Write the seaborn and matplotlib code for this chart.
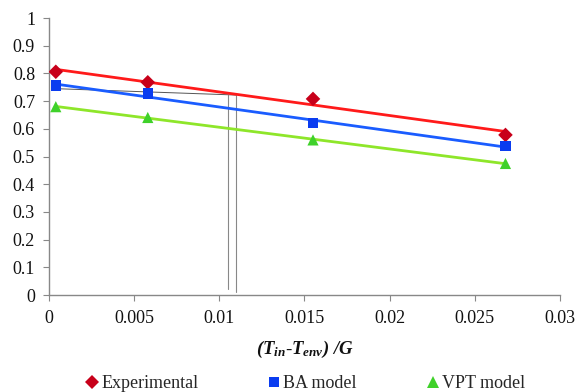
import numpy as np
import pandas as pd
import matplotlib
matplotlib.use("Agg")
import matplotlib.pyplot as plt
import seaborn as sns
from matplotlib.lines import Line2D

# ---- data ----
x_vals = [0.0004, 0.0058, 0.0155, 0.0268]
experimental = [0.806, 0.768, 0.708, 0.578]
ba_model = [0.756, 0.728, 0.620, 0.538]
vpt_model = [0.680, 0.641, 0.560, 0.475]
series_names = ["Experimental", "BA model", "VPT model"]
x_ticks = [0, 0.005, 0.01, 0.015, 0.02, 0.025, 0.03]
x_tick_labels = ["0", "0.005", "0.01", "0.015", "0.02", "0.025", "0.03"]
y_ticks = [0, 0.1, 0.2, 0.3, 0.4, 0.5, 0.6, 0.7, 0.8, 0.9, 1.0]
y_tick_labels = ["0", "0.1", "0.2", "0.3", "0.4", "0.5", "0.6", "0.7", "0.8", "0.9", "1"]
# thin annotation guide lines in the reference
guide_v_x = [0.0105, 0.0110]
guide_v_y0 = [0.022, 0.012]
guide_v_y1 = [0.722, 0.722]
guide_h_x = [0.0004, 0.0110]
guide_h_y = [0.745, 0.722]

sns.set_theme(style="white")
plt.rcParams["font.family"] = ["Liberation Serif", "DejaVu Serif"]
plt.rcParams["mathtext.fontset"] = "custom"
plt.rcParams["mathtext.rm"] = "Liberation Serif:bold:italic"
plt.rcParams["mathtext.it"] = "Liberation Serif:bold:italic"
plt.rcParams["mathtext.bf"] = "Liberation Serif:bold:italic"

df = pd.DataFrame({
    "x": x_vals * 3,
    "y": experimental + ba_model + vpt_model,
    "series": [series_names[0]] * 4 + [series_names[1]] * 4 + [series_names[2]] * 4,
})

line_colors = {"Experimental": "#ff1a1a", "BA model": "#1a5cff", "VPT model": "#8ee62a"}
marker_colors = {"Experimental": "#c8001a", "BA model": "#0a3cf0", "VPT model": "#3fd12a"}
markers = {"Experimental": "D", "BA model": "s", "VPT model": "^"}
msizes = {"Experimental": 55, "BA model": 55, "VPT model": 65}

fig = plt.figure(figsize=(5.77, 3.92), dpi=100)
ax = fig.add_axes([0.0849, 0.2474, 0.8856, 0.7066])

# guide lines
for gx, y0, y1 in zip(guide_v_x, guide_v_y0, guide_v_y1):
    ax.plot([gx, gx], [y0, y1], color="#888888", lw=0.8, zorder=1)
ax.plot(guide_h_x, guide_h_y, color="#555555", lw=0.7, zorder=1)

for name in series_names:
    sub = df[df["series"] == name]
    sns.regplot(data=sub, x="x", y="y", ax=ax, scatter=False, ci=None,
                line_kws={"color": line_colors[name], "lw": 2.0, "zorder": 2})
    sns.scatterplot(data=sub, x="x", y="y", ax=ax, marker=markers[name],
                    color=marker_colors[name], s=msizes[name], edgecolor="none",
                    zorder=3, legend=False)

ax.set_xlim(0, 0.03)
ax.set_ylim(0, 1)
ax.set_xticks(x_ticks)
ax.set_xticklabels(x_tick_labels)
ax.set_yticks(y_ticks)
ax.set_yticklabels(y_tick_labels)
ax.tick_params(axis="both", which="major", direction="out", length=4, width=0.8,
               color="#888888", labelsize=13, labelcolor="#111111", bottom=True, left=True)
ax.tick_params(axis="x", pad=7)
ax.tick_params(axis="y", pad=6)
for s in ["top", "right"]:
    ax.spines[s].set_visible(False)
for s in ["left", "bottom"]:
    ax.spines[s].set_color("#888888")
    ax.spines[s].set_linewidth(1.0)

ax.set_xlabel(r"$(T_{in}$-$T_{env})\ /G$", fontsize=13.5, labelpad=8, color="#111111")
ax.set_ylabel("")

handles = [Line2D([], [], linestyle="none", marker=markers[n], color=marker_colors[n],
                  markersize=7 if n != "VPT model" else 8, markeredgewidth=0) for n in series_names]
fig.legend(handles, series_names, loc="center", bbox_to_anchor=(0.530, 0.022), ncol=3,
           frameon=False, fontsize=13, handlelength=0.6, handletextpad=0.2,
           columnspacing=3.9)

fig.savefig("out.png", dpi=100)
